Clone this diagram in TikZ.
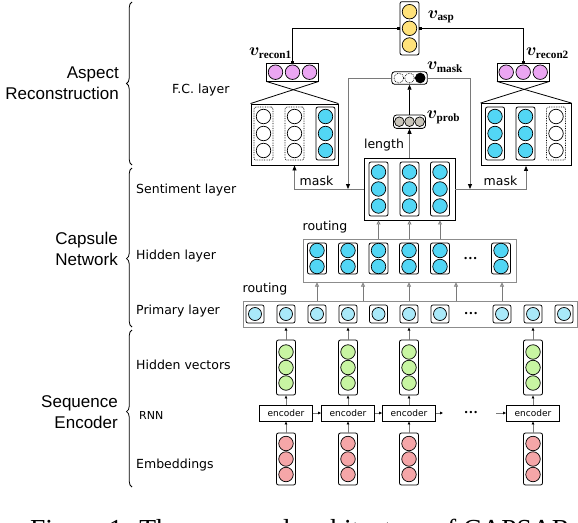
\documentclass[tikz,border=0pt]{standalone}
\usepackage{fontspec}
\usepackage{bm}
\setmainfont{Liberation Serif}
\newfontfamily\arialf{Liberation Sans}
\newfontfamily\verdf{DejaVu Sans}
\usetikzlibrary{arrows.meta,decorations.pathreplacing,calc}
\definecolor{cyanA}{HTML}{52D6F5}
\definecolor{cyanL}{HTML}{A9E9F9}
\definecolor{yel}{HTML}{FFE27A}
\definecolor{pnk}{HTML}{EBA6F2}
\definecolor{grn}{HTML}{C8F5A2}
\definecolor{redc}{HTML}{F5A6A8}
\definecolor{gryc}{HTML}{C9C5BA}
\definecolor{lin}{HTML}{7A7A7A}
\definecolor{boxg}{HTML}{8C8C8C}
\begin{document}
\begin{tikzpicture}[x=1pt,y=-1pt,
  circ/.style={circle, draw=black, line width=0.7pt, minimum size=14.5pt, inner sep=0pt},
  capbox/.style={draw=black, line width=0.8pt, rounded corners=2pt, minimum width=19pt, inner sep=0pt, fill=white},
  dotbox/.style={draw=black, densely dotted, line width=0.7pt, rounded corners=2pt, minimum width=19pt, inner sep=0pt, fill=white},
  sqbox/.style={draw=black, line width=0.7pt, rounded corners=2pt, minimum size=18pt, inner sep=0pt, fill=white},
  bigbox/.style={draw=black, line width=0.9pt, inner sep=0pt, fill=white},
  graybox/.style={draw=boxg, line width=1pt, inner sep=0pt, fill=white},
  encbox/.style={draw=black, line width=0.8pt, fill=white, minimum width=53pt, minimum height=16pt, inner sep=0pt, font=\verdf\fontsize{9}{10}\selectfont},
  glabel/.style={font=\verdf\fontsize{12.5}{14}\selectfont, inner sep=0pt, anchor=west},
  tlabel/.style={font=\verdf\fontsize{12.5}{14}\selectfont, inner sep=0pt},
  blabel/.style={font=\arialf\fontsize{17}{21}\selectfont, align=right, anchor=east, inner sep=0pt},
  vlab/.style={font=\fontsize{16}{18}\selectfont, inner sep=0pt},
  dotsnode/.style={font=\verdf\fontsize{8}{8}\selectfont, inner sep=0pt},
  conn/.style={draw=lin, line width=0.8pt},
  smallarr/.style={draw=lin, line width=0.7pt, -{Triangle[length=3pt,width=2.6pt,black]}},
  uparr/.style={draw=lin, line width=0.8pt, -{Triangle[open,length=4pt,width=4pt,fill=white]}},
  maskarr/.style={draw=lin, line width=0.8pt, -{Triangle[length=5pt,width=4pt,black]}},
  blkarr/.style={draw=black, line width=0.8pt, -{Triangle[length=5pt,width=4pt,black]}},
  sqarr/.style={draw=black, line width=0.8pt, {Square[length=2.4pt,width=2.4pt]}-{Square[length=2.4pt,width=2.4pt]}},
  bracestyle/.style={draw=black, line width=0.8pt, decorate, decoration={brace, amplitude=5.5pt}}
]
\clip (0,0) rectangle (578,522);

% ---------- left braces and labels ----------
\draw[bracestyle] (132,165) -- (132,2);
\draw[bracestyle, decoration={brace, amplitude=5.5pt, aspect=0.43}] (132,327) -- (132,168);
\draw[bracestyle, decoration={brace, amplitude=5.5pt, aspect=0.48}] (132,487) -- (132,330);
\node[blabel] (tAR) at (119,83) {Aspect\\Reconstruction};
\node[blabel] (tCN) at (118,249) {Capsule\\Network};
\node[blabel] (tSE) at (118,412) {Sequence\\Encoder};

\node[glabel] (lFC) at (172,90) {F.C. layer};
\node[glabel] (lSL) at (136,190) {Sentiment layer};
\node[glabel] (lHL) at (136,256) {Hidden layer};
\node[glabel] (lPL) at (136,311.5) {Primary layer};
\node[glabel] (lHV) at (136,364.5) {Hidden vectors};
\node[glabel, font=\verdf\fontsize{11}{12}\selectfont] (lRN) at (139,415) {RNN};
\node[glabel] (lEM) at (136,465) {Embeddings};

% ---------- sequence encoder ----------
\node[graybox, minimum width=334pt, minimum height=26pt] (prim) at (410,314) {};
\foreach \i/\x in {1/286, 2/348, 3/409, 4/533} {
  \node[capbox, minimum height=55pt] (g\i) at (\x,367.5) {};
  \foreach \j/\yy in {1/352, 2/367.5, 3/383}
    \node[circ, fill=grn] (g\i-\j) at (\x,\yy) {};
  \node[capbox, minimum height=52pt] (r\i) at (\x,459) {};
  \foreach \j/\yy in {1/443.5, 2/459, 3/474.5}
    \node[circ, fill=redc] (r\i-\j) at (\x,\yy) {};
  \node[encbox] (e\i) at (\x,413) {encoder};
  \draw[smallarr] (r\i) -- (e\i);
  \draw[smallarr] (e\i) -- (g\i);
  \draw[smallarr] (g\i) -- (g\i |- prim.south);
}
\draw[smallarr] (e1) -- (e2);
\draw[smallarr] (e2) -- (e3);
\coordinate (ce3) at (443,413);
\coordinate (ce4) at (496,413);
\draw[smallarr] (e3) -- (ce3);
\node[dotsnode] (dE) at (471,413) {•••};
\draw[smallarr] (ce4) -- (e4);

% ---------- primary layer ----------
\foreach \i/\x in {1/255,2/286,3/317,4/348,5/378.5,6/409,7/440,8/502,9/533,10/564} {
  \node[sqbox] (p\i) at (\x,314) {};
  \node[circ, fill=cyanL, minimum size=13pt] (p\i-c) at (\x,314) {};
}
\node[dotsnode] (dP) at (471,314) {•••};
\node[tlabel] (rt1) at (265,289) {routing};

% ---------- hidden layer ----------
\node[graybox, minimum width=213pt, minimum height=43pt] (hid) at (409.5,260.5) {};
\foreach \i/\x in {1/317,2/348,3/378.5,4/409,5/440,6/501} {
  \node[capbox, minimum height=31pt] (h\i) at (\x,258.5) {};
  \node[circ, fill=cyanA] (h\i-1) at (\x,250.5) {};
  \node[circ, fill=cyanA] (h\i-2) at (\x,266.5) {};
}
\node[dotsnode] (dH) at (470.5,259) {•••};
\node[tlabel] (rt2) at (325,227.5) {routing};
\foreach \n/\x in {1/317,2/363,3/409,4/456,5/502} {
  \coordinate (u\n) at (\x,301);
  \draw[uparr] (u\n) -- (u\n |- hid.south);
}

% ---------- sentiment layer ----------
\node[bigbox, minimum width=91pt, minimum height=62pt] (sent) at (409.5,189) {};
\foreach \i/\x in {1/378.5,2/409.5,3/440} {
  \node[capbox, minimum height=54pt] (s\i) at (\x,189) {};
  \foreach \j/\yy in {1/172, 2/189, 3/206}
    \node[circ, fill=cyanA] (s\i-\j) at (\x,\yy) {};
  \draw[uparr] (s\i |- hid.north) -- (s\i |- sent.south);
}

% ---------- v_prob and v_mask ----------
\node[draw=black, line width=0.8pt, rounded corners=3pt, minimum width=32pt, minimum height=13.3pt, inner sep=0pt, fill=white] (prob) at (409.5,121.7) {};
\foreach \j/\x in {1/399.3,2/409.5,3/419.7}
  \node[circ, fill=gryc, minimum size=9.6pt] (pr\j) at (\x,121.7) {};
\node[draw=black, line width=0.8pt, rounded corners=3pt, minimum width=35.5pt, minimum height=12.6pt, inner sep=0pt, fill=white] (vmask) at (409.5,78) {};
\node[circ, densely dotted, fill=white, minimum size=9.8pt] (mk1) at (398.8,78) {};
\node[circ, densely dotted, fill=white, minimum size=9.8pt] (mk2) at (409.5,78) {};
\node[circ, fill=black, minimum size=9.8pt] (mk3) at (420.2,78) {};
\draw[blkarr, draw=lin] (prob |- sent.north) -- (prob.south);
\draw[blkarr] (prob.north) -- (vmask.south);
\node[tlabel] (lenl) at (384,145.5) {length};
\node[vlab] (lprob) at (443.5,117.5) {$\bm{v}_{\mathbf{prob}}$};
\node[vlab] (lmask) at (445,67.5) {$\bm{v}_{\mathbf{mask}}$};

% ---------- v_asp ----------
\node[draw=black, line width=0.8pt, rounded corners=2pt, minimum width=19pt, minimum height=53.3pt, inner sep=0pt, fill=white] (vasp) at (409.5,28.3) {};
\foreach \j/\yy in {1/11.7,2/28.3,3/45}
  \node[circ, fill=yel] (va\j) at (409.5,\yy) {};
\node[vlab] (lasp) at (441,17) {$\bm{v}_{\mathbf{asp}}$};

% ---------- reconstruction (F.C.) ----------
\node[draw=black, line width=0.8pt, minimum width=51.6pt, minimum height=17.7pt, inner sep=0pt, fill=white] (pk1) at (292.5,72.2) {};
\node[draw=black, line width=0.8pt, minimum width=51.6pt, minimum height=17.7pt, inner sep=0pt, fill=white] (pk2) at (523.2,72.2) {};
\foreach \j/\dx in {1/-17,2/0,3/17} {
  \node[circ, fill=pnk] (pk1-\j) at (292.5+\dx,72.2) {};
  \node[circ, fill=pnk] (pk2-\j) at (523.2+\dx,72.2) {};
}
\node[vlab] (lrc1) at (270.5,53) {$\bm{v}_{\mathbf{recon1}}$};
\node[vlab] (lrc2) at (547.5,53) {$\bm{v}_{\mathbf{recon2}}$};

\node[bigbox, minimum width=87pt, minimum height=61pt] (rl) at (294.5,134.5) {};
\node[bigbox, minimum width=90pt, minimum height=62pt] (rr) at (526,134.5) {};
\foreach \i/\x/\st/\fc in {1/263.5/dotbox/white, 2/294.5/dotbox/white, 3/325.5/capbox/cyanA} {
  \node[\st, minimum height=53pt] (rl\i) at (\x,133.5) {};
  \foreach \j/\yy in {1/116.5, 2/133.5, 3/150.5}
    \node[circ, fill=\fc] (rl\i-\j) at (\x,\yy) {};
}
\foreach \i/\x/\st/\fc in {1/495/capbox/cyanA, 2/525.5/capbox/cyanA, 3/556/dotbox/white} {
  \node[\st, minimum height=53pt] (rr\i) at (\x,133.5) {};
  \foreach \j/\yy in {1/116.5, 2/133.5, 3/150.5}
    \node[circ, fill=\fc] (rr\i-\j) at (\x,\yy) {};
}
\draw[black, line width=0.8pt] (pk1.south west) -- (rl.north east);
\draw[black, line width=0.8pt] (pk1.south east) -- (rl.north west);
\draw[black, line width=0.8pt] (pk2.south west) -- (rr.north east);
\draw[black, line width=0.8pt] (pk2.south east) -- (rr.north west);

\draw[sqarr] (vasp.west) -| (pk1.north);
\draw[sqarr] (vasp.east) -| (pk2.north);

% ---------- mask connectors ----------
\coordinate (jL) at (348,189);
\coordinate (jR) at (470,189);
\draw[maskarr] (vmask.west) -| (jL);
\draw[maskarr] (vmask.east) -| (jR);
\draw[maskarr] (sent.west) -| (rl.south);
\draw[maskarr] (sent.east) -| (rr.south);
\node[tlabel] (mkl) at (316.5,181) {mask};
\node[tlabel] (mkr) at (500.5,181) {mask};

% ---------- caption (cut by the lower edge, as in the reference) ----------
\node[anchor=base west, inner sep=0pt, font=\fontsize{27.5}{30}\selectfont] (cap) at (30,538.5) {Figure 1: The proposed architecture of CAPSAR};
\end{tikzpicture}
\end{document}
